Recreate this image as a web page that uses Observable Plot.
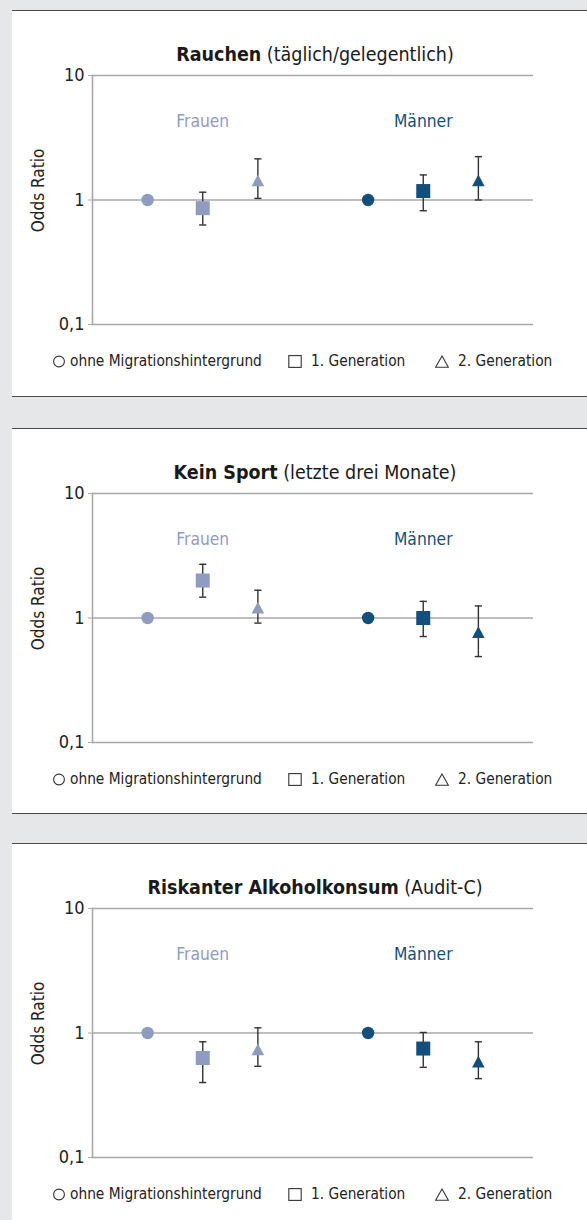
<!DOCTYPE html>
<html><head><meta charset="utf-8">
<script src="https://cdn.jsdelivr.net/npm/d3@7"></script>
<script src="https://cdn.jsdelivr.net/npm/@observablehq/plot@0.6"></script>
<style>
html,body{margin:0;padding:0;background:#e6e7e9;}
body{width:587px;height:1220px;position:relative;overflow:hidden;font-family:"DejaVu Sans Condensed","Liberation Sans Narrow","Roboto Condensed",sans-serif;font-stretch:condensed;color:#1e1e1e;}
.panel{position:absolute;left:12px;width:575px;background:#fff;border-top:1.5px solid #4a4a4a;border-bottom:1.5px solid #4a4a4a;box-sizing:border-box;}
.panel > svg{position:absolute;left:0;top:-1.5px;}
.title{position:absolute;left:0;width:606px;text-align:center;font-size:19.5px;line-height:20px;top:34px;color:#1a1a1a;}
.title b{font-weight:bold;}
.legend-item{position:absolute;top:341px;font-size:15.3px;line-height:18px;color:#222;white-space:nowrap;display:flex;align-items:center;}
</style>
</head><body>
<div id="root"></div>
<script>
// ---------- data ----------
const groups = ["Frauen", "Männer"];
const generations = ["ohne Migrationshintergrund", "1. Generation", "2. Generation"];
const yTicks = [0.1, 1, 10];
const yTickLabels = ["0,1", "1", "10"];

const titlesBold = ["Rauchen", "Kein Sport", "Riskanter Alkoholkonsum"];
const titlesNormal = [" (täglich/gelegentlich)", " (letzte drei Monate)", " (Audit-C)"];

// Rauchen
const rauchenFrauen    = [1, 0.86, 1.44];
const rauchenFrauenLo  = [null, 0.63, 1.03];
const rauchenFrauenHi  = [null, 1.155, 2.14];
const rauchenMaenner   = [1, 1.18, 1.44];
const rauchenMaennerLo = [null, 0.82, 1.0];
const rauchenMaennerHi = [null, 1.59, 2.23];

// Kein Sport
const sportFrauen    = [1, 2.0, 1.21];
const sportFrauenLo  = [null, 1.47, 0.91];
const sportFrauenHi  = [null, 2.7, 1.67];
const sportMaenner   = [1, 1.0, 0.77];
const sportMaennerLo = [null, 0.71, 0.49];
const sportMaennerHi = [null, 1.36, 1.25];

// Riskanter Alkoholkonsum
const alkFrauen    = [1, 0.63, 0.74];
const alkFrauenLo  = [null, 0.40, 0.54];
const alkFrauenHi  = [null, 0.85, 1.10];
const alkMaenner   = [1, 0.75, 0.59];
const alkMaennerLo = [null, 0.53, 0.43];
const alkMaennerHi = [null, 1.01, 0.85];

const groupColors = ["#8f9cc2", "#134f7c"];

const panels = [
  {values: [rauchenFrauen, rauchenMaenner], lo: [rauchenFrauenLo, rauchenMaennerLo], hi: [rauchenFrauenHi, rauchenMaennerHi]},
  {values: [sportFrauen, sportMaenner], lo: [sportFrauenLo, sportMaennerLo], hi: [sportFrauenHi, sportMaennerHi]},
  {values: [alkFrauen, alkMaenner], lo: [alkFrauenLo, alkMaennerLo], hi: [alkFrauenHi, alkMaennerHi]}
];

// ---------- layout ----------
const panelTops = [10, 428, 843];
const panelHeights = [387, 386, 420];
const legendLeft = [41, 276, 423];
const legendGap = [5, 9, 9];
const FONT = '"DejaVu Sans Condensed","Liberation Sans Narrow","Roboto Condensed",sans-serif';

const triangle = {
  draw(ctx, size) {
    const r = Math.sqrt(size / Math.PI);
    const h = r * 0.93;
    ctx.moveTo(0, -h); ctx.lineTo(r, h); ctx.lineTo(-r, h); ctx.closePath();
  }
};
const cap = {
  draw(ctx, size) {
    const r = Math.sqrt(size / Math.PI);
    ctx.moveTo(-r, 0); ctx.lineTo(r, 0);
  }
};
const symbols = ["circle", "square", triangle];
const radii = [6.2, 7.9, 6.3];

const legendShapes = [
  '<svg width="12" height="13" viewBox="0 0 12 13"><circle cx="6" cy="6.5" r="5.4" fill="none" stroke="#333" stroke-width="1.1"/></svg>',
  '<svg width="14" height="13" viewBox="0 0 14 13"><rect x="0.8" y="0.6" width="12.4" height="11.8" fill="none" stroke="#333" stroke-width="1.1"/></svg>',
  '<svg width="14" height="13" viewBox="0 0 14 13"><path d="M7,1 L13.4,12.3 L0.6,12.3 Z" fill="none" stroke="#333" stroke-width="1.1"/></svg>'
];

const root = document.getElementById("root");

panels.forEach((p, pi) => {
  const rows = [];
  groups.forEach((g, gi) => {
    generations.forEach((gen, ki) => {
      rows.push({
        pos: gi * (generations.length + 1) + ki + 1,
        gi, ki, group: g, gen,
        or: p.values[gi][ki], lo: p.lo[gi][ki], hi: p.hi[gi][ki],
        color: groupColors[gi]
      });
    });
  });
  const errs = rows.filter(d => d.lo != null);
  const labelRows = groups.map((g, gi) => ({g, pos: gi * (generations.length + 1) + 2, color: groupColors[gi]}));

  const div = document.createElement("div");
  div.className = "panel";
  div.style.top = panelTops[pi] + "px";
  div.style.height = panelHeights[pi] + "px";
  root.appendChild(div);

  const chart = Plot.plot({
    width: 575, height: 330,
    marginTop: 65, marginBottom: 16, marginLeft: 80, marginRight: 54,
    style: {fontFamily: FONT, fontSize: "16px", background: "transparent", overflow: "visible"},
    x: {domain: [0, 8], axis: null},
    y: {type: "log", domain: [0.1, 10], axis: null},
    color: {type: "identity"},
    marks: [
      Plot.ruleY(yTicks, {stroke: "#a8a8a8", strokeWidth: 1.6}),
      Plot.frame({anchor: "left", stroke: "#a8a8a8", strokeWidth: 1.6}),
      Plot.axisY({ticks: yTicks, tickFormat: (d) => yTickLabels[yTicks.indexOf(d)], tickSize: 4, tickPadding: 4,
        stroke: "#a8a8a8", fill: "#222", fontSize: 18, label: null}),
      Plot.text(["Odds Ratio"], {frameAnchor: "left", textAnchor: "middle", dx: -53.5, dy: -9.5, rotate: -90, fontSize: 17, fill: "#222"}),
      Plot.ruleX(errs, {x: "pos", y1: "lo", y2: "hi", stroke: "#333", strokeWidth: 1.4}),
      Plot.dot(errs, {x: "pos", y: "lo", symbol: () => cap, r: 3.6, stroke: "#333", strokeWidth: 1.4}),
      Plot.dot(errs, {x: "pos", y: "hi", symbol: () => cap, r: 3.6, stroke: "#333", strokeWidth: 1.4}),
      ...symbols.map((s, ki) => Plot.dot(rows.filter(d => d.ki === ki), {
        x: "pos", y: "or", symbol: () => s, r: radii[ki], fill: "color", stroke: null
      })),
      Plot.text(labelRows, {x: "pos", y: () => 4.3, text: "g", fill: "color", fontSize: 17.3})
    ]
  });
  div.appendChild(chart);

  const title = document.createElement("div");
  title.className = "title";
  const b = document.createElement("b");
  b.textContent = titlesBold[pi];
  title.appendChild(b);
  title.appendChild(document.createTextNode(titlesNormal[pi]));
  div.appendChild(title);

  generations.forEach((gen, ki) => {
    const item = document.createElement("div");
    item.className = "legend-item";
    item.style.left = legendLeft[ki] + "px";
    item.innerHTML = legendShapes[ki];
    item.firstChild.style.marginRight = legendGap[ki] + "px";
    item.appendChild(document.createTextNode(gen));
    div.appendChild(item);
  });
});
</script>
</body></html>
